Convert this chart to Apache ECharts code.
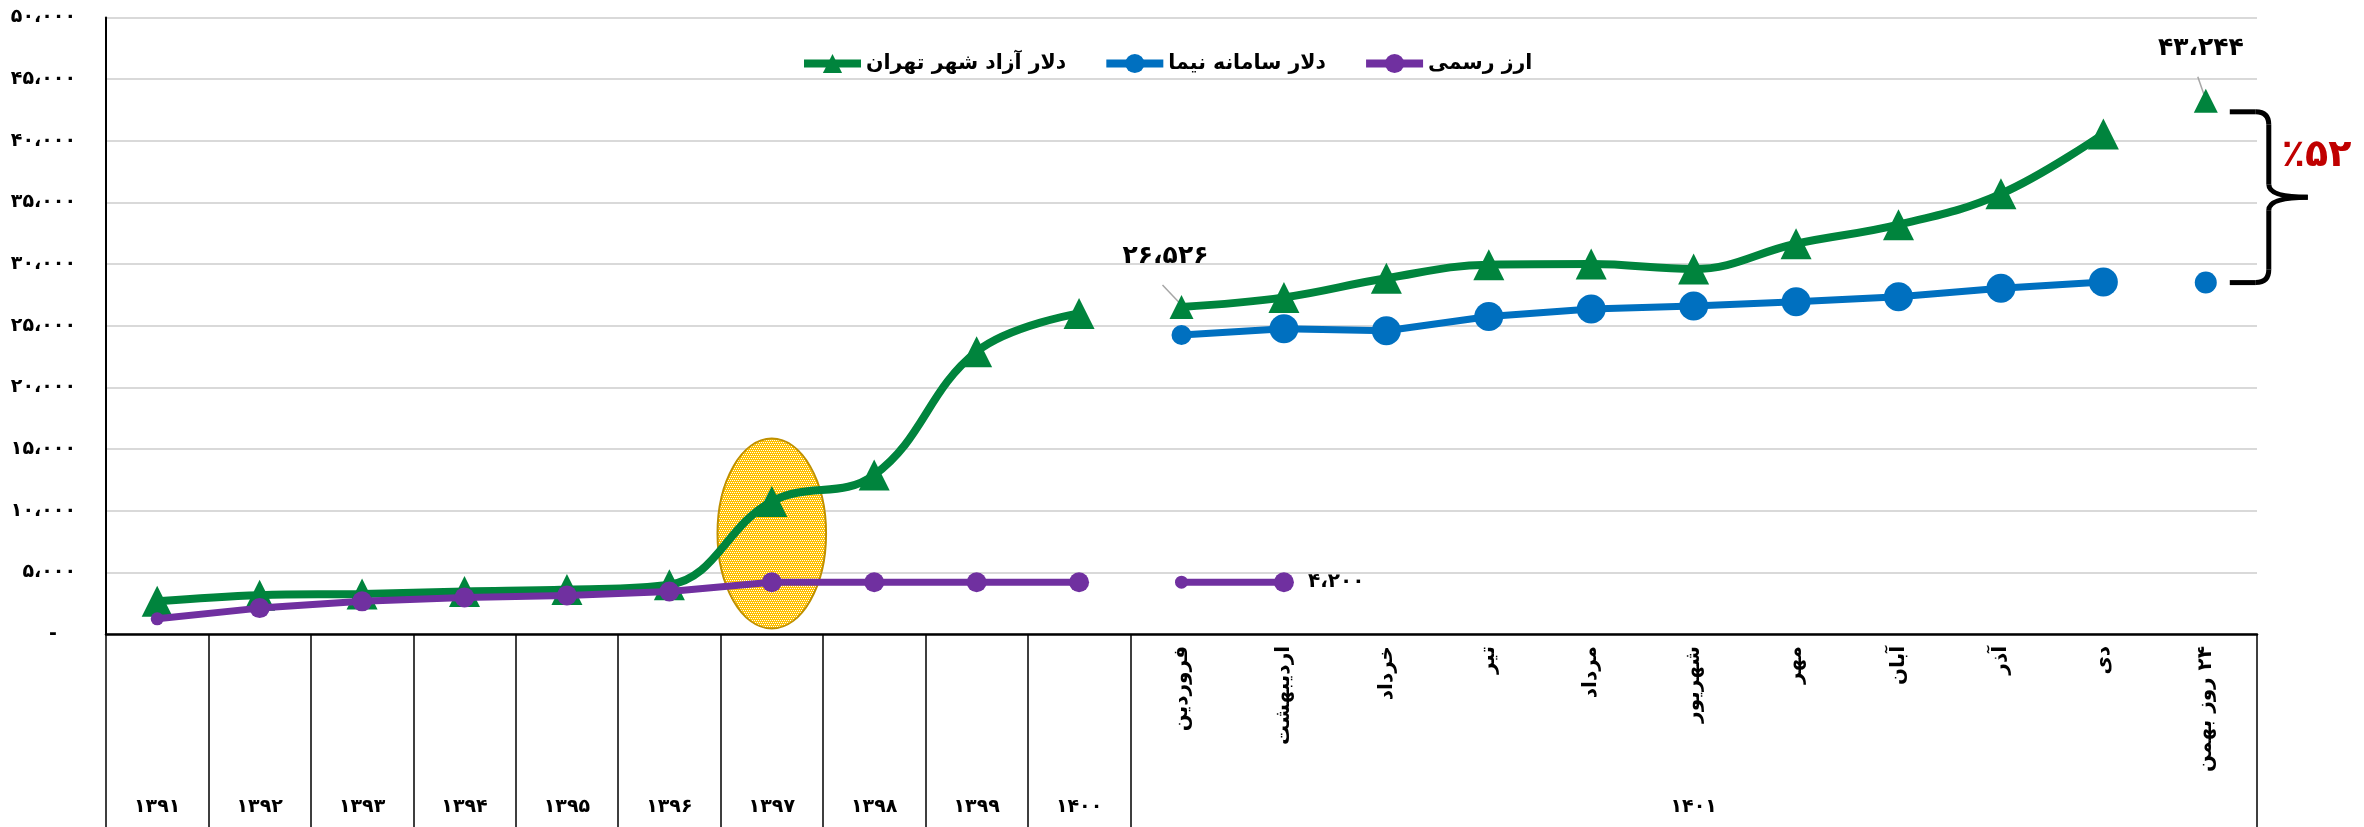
<!DOCTYPE html>
<html>
<head>
<meta charset="utf-8">
<script src="https://cdn.jsdelivr.net/npm/echarts@6/dist/echarts.min.js"></script>
<style>
html,body{margin:0;padding:0;background:#fff;}
#chart{width:2364px;height:827px;}
</style>
</head>
<body>
<div id="chart"></div>
<script>
// ---------- DATA ----------
const years = ['۱۳۹۱','۱۳۹۲','۱۳۹۳','۱۳۹۴','۱۳۹۵','۱۳۹۶','۱۳۹۷','۱۳۹۸','۱۳۹۹','۱۴۰۰'];
const months = ['فروردین','اردیبهشت','خرداد','تیر','مرداد','شهریور','مهر','آبان','آذر','دی','\u200F۲۴ روز بهمن'];
const monthGroupLabel = '۱۴۰۱';
const categories = years.concat(months);

const seriesNames = ['دلار آزاد شهر تهران','دلار سامانه نیما','ارز رسمی'];
const freeMarket = [2650,3150,3250,3450,3600,4000,10750,12900,22900,26000,
                    26526,27300,28850,29950,30000,29600,31650,33200,35700,40550,43244];
const nima = [null,null,null,null,null,null,null,null,null,null,
              24250,24750,24600,25750,26350,26600,26950,27350,28050,28550,28500];
const official = [1230,2100,2650,2970,3130,3450,4200,4200,4200,4200,
                  4200,4200,null,null,null,null,null,null,null,null,null];
const gapLabel = '٪۵۲';

// ---------- HELPERS ----------
const FONT = "'DejaVu Sans', sans-serif";
const faDigits = '۰۱۲۳۴۵۶۷۸۹';
function fa(n){
  return String(Math.round(n)).replace(/\B(?=(\d{3})+(?!\d))/g,'،').replace(/\d/g,d=>faDigits[d]);
}
function seg(arr, from, to){ return arr.map((v,i)=> (i>=from && i<=to) ? v : null); }
const nY = years.length, nAll = categories.length;

const GREEN = '#00843D', BLUE = '#0070C0', PURPLE = '#7030A0';

function labelled(arr, idxs, labelOpt){
  return arr.map((v,i)=> (idxs.indexOf(i)>=0 && v!=null) ? Object.assign({value:v}, labelOpt(i)) : v);
}

const chart = echarts.init(document.getElementById('chart'), null, {renderer:'canvas'});

const dataLabelStyle = {show:true, color:'#000', fontFamily:FONT, fontWeight:'bold', fontSize:25,
  formatter: p => fa(p.value)};

// label offsets relative to the marker (annotation styling)
const firstMonthLabelOffset = [-16, -50];
const lastLabelOffset = [-5, -52];

const freeMonthly = labelled(seg(freeMarket, nY, nAll-2), [nY], () => ({
  label: Object.assign({}, dataLabelStyle, {position:'inside', offset:firstMonthLabelOffset})
}));
const freeLast = labelled(seg(freeMarket, nAll-1, nAll-1), [nAll-1], () => ({
  label: Object.assign({}, dataLabelStyle, {position:'inside', offset:lastLabelOffset})
}));
const officialMonthly = labelled(seg(official, nY, nAll-1), [nY+1], () => ({
  label: Object.assign({}, dataLabelStyle, {position:'right', distance:14, fontSize:20})
}));

function greenSize(v, p){ return (p.dataIndex===nY || p.dataIndex===nAll-1) ? 24 : 31; }
function blueSize(v, p){ return (p.dataIndex===nY) ? 20 : (p.dataIndex===nAll-1 ? 22 : 29); }
function purpleSize(v, p){ return (p.dataIndex===0 || p.dataIndex===nY) ? 13 : 20; }

const series = [
  {name:seriesNames[0], type:'line', data:seg(freeMarket,0,nY-1), smooth:0.4, symbol:'triangle', symbolSize:greenSize,
   itemStyle:{color:GREEN}, lineStyle:{color:GREEN,width:8}, z:2},
  {name:seriesNames[0], type:'line', data:freeMonthly, smooth:0.4, symbol:'triangle', symbolSize:greenSize,
   itemStyle:{color:GREEN}, lineStyle:{color:GREEN,width:8}, z:2},
  {name:seriesNames[0], type:'line', data:freeLast, symbol:'triangle', symbolSize:greenSize,
   itemStyle:{color:GREEN}, lineStyle:{color:GREEN,width:8}, z:2},
  {name:seriesNames[1], type:'line', data:seg(nima,nY,nAll-2), symbol:'circle', symbolSize:blueSize,
   itemStyle:{color:BLUE}, lineStyle:{color:BLUE,width:7}, z:3},
  {name:seriesNames[1], type:'line', data:seg(nima,nAll-1,nAll-1), symbol:'circle', symbolSize:blueSize,
   itemStyle:{color:BLUE}, lineStyle:{color:BLUE,width:7}, z:3},
  {name:seriesNames[2], type:'line', data:seg(official,0,nY-1), symbol:'circle', symbolSize:purpleSize,
   itemStyle:{color:PURPLE}, lineStyle:{color:PURPLE,width:7}, z:4},
  {name:seriesNames[2], type:'line', data:officialMonthly, symbol:'circle', symbolSize:purpleSize,
   itemStyle:{color:PURPLE}, lineStyle:{color:PURPLE,width:7}, z:4}
];
series.forEach(s => { s.animation = false; s.connectNulls = false; s.showAllSymbol = true; });

const option = {
  animation:false,
  backgroundColor:'#fff',
  textStyle:{fontFamily:FONT},
  grid:{left:106, right:107, top:17.5, bottom:193, containLabel:false},
  legend:{
    data:seriesNames, left:795, top:48, itemWidth:57, itemHeight:24, itemGap:36,
    lineStyle:{width:8},
    textStyle:{fontFamily:FONT, fontWeight:'bold', fontSize:20.5, color:'#000'}
  },
  xAxis:[
    {type:'category', data:categories, boundaryGap:true, position:'bottom',
     axisLine:{show:true, lineStyle:{color:'#000', width:2.5}},
     axisTick:{show:true, length:195, lineStyle:{color:'#000', width:1.5},
               interval:(i)=> i<=nY},
     axisLabel:{interval:0, rotate:90, margin:12, color:'#000', fontFamily:FONT, fontWeight:'bold', fontSize:20,
                formatter:(v,i)=> i<nY ? '' : v},
     splitLine:{show:false}},
    {type:'category', data:categories, boundaryGap:true, position:'bottom',
     axisLine:{show:false}, axisTick:{show:false}, splitLine:{show:false},
     axisLabel:{interval:0, margin:164, color:'#000', fontFamily:FONT, fontWeight:'bold', fontSize:19,
                formatter:(v,i)=> i<nY ? v : (i===Math.floor((nY+nAll-1)/2) ? monthGroupLabel : '')}}
  ],
  yAxis:{type:'value', min:0, max:50000, interval:5000,
    axisLine:{show:true, lineStyle:{color:'#000', width:2}},
    axisTick:{show:false},
    splitLine:{show:true, lineStyle:{color:'#d9d9d9', width:2}},
    axisLabel:{margin:30, color:'#000', fontFamily:FONT, fontWeight:'bold', fontSize:19,
               formatter:v=> v===0 ? '-\u2003' : fa(v)}},
  series:series
};
chart.setOption(option);

// ---------- ANNOTATIONS (positions from the axes) ----------
function px(i, v){ return chart.convertToPixel({xAxisIndex:0, yAxisIndex:0}, [i, v]); }

// hatched ellipse around 1397
const ellipseCat = 6, ellipseTop = 15850, ellipseBottom = 450;
const pat = document.createElement('canvas'); pat.width = 4; pat.height = 4;
const pc = pat.getContext('2d');
pc.fillStyle = '#FFC000'; pc.fillRect(0,0,4,4);
pc.fillStyle = '#ffffff';
[[0,0],[2,0],[1,2],[3,2]].forEach(p=>pc.fillRect(p[0],p[1],1,1));

const pTop = px(ellipseCat, ellipseTop), pBot = px(ellipseCat, ellipseBottom);
const band = px(1,0)[0] - px(0,0)[0];

// brace between last free-market and last nima values
const last = nAll-1;
const bT = px(last, freeMarket[last]), bB = px(last, nima[last]);
const X = bT[0];
const yT = bT[1] + 11, yB = bB[1], yM = (yT + yB)/2;
const bx0 = X + 24, bx1 = X + 50, bv = X + 63, tip = X + 102;
const br = {stroke:'#000', lineWidth:5, fill:null};

// leader lines for the two labelled free-market points
const pFirst = px(nY, freeMarket[nY]);
const lead = {stroke:'#a6a6a6', lineWidth:1.5};

chart.setOption({
  graphic:[
    {type:'ellipse', z:1, shape:{cx:pTop[0], cy:(pTop[1]+pBot[1])/2, rx:band*0.53, ry:(pBot[1]-pTop[1])/2},
     style:{fill:{image:pat, repeat:'repeat'}, stroke:'#BF9000', lineWidth:2}},
    {type:'line', z:1, shape:{x1:pFirst[0]-19, y1:pFirst[1]-22, x2:pFirst[0], y2:pFirst[1]-2}, style:lead},
    {type:'line', z:1, shape:{x1:X-8, y1:bT[1]-24, x2:X, y2:bT[1]-1}, style:lead},
    {type:'group', z:5, children:[
      {type:'line', shape:{x1:bx0,y1:yT,x2:bx1,y2:yT}, style:br},
      {type:'bezierCurve', shape:{x1:bx1,y1:yT,cpx1:bv,cpy1:yT,x2:bv,y2:yT+13}, style:br},
      {type:'line', shape:{x1:bv,y1:yT+13,x2:bv,y2:yM-13}, style:br},
      {type:'bezierCurve', shape:{x1:bv,y1:yM-13,cpx1:bv,cpy1:yM,x2:tip,y2:yM}, style:br},
      {type:'bezierCurve', shape:{x1:tip,y1:yM,cpx1:bv,cpy1:yM,x2:bv,y2:yM+13}, style:br},
      {type:'line', shape:{x1:bv,y1:yM+13,x2:bv,y2:yB-13}, style:br},
      {type:'bezierCurve', shape:{x1:bv,y1:yB-13,cpx1:bv,cpy1:yB,x2:bx1,y2:yB}, style:br},
      {type:'line', shape:{x1:bx1,y1:yB,x2:bx0,y2:yB}, style:br}
    ]},
    {type:'text', z:5, left: X + 76, top: yM - 60,
     style:{text:gapLabel, fill:'#C00000', font:"bold 38px 'DejaVu Sans', sans-serif"}}
  ]
});
</script>
</body>
</html>
